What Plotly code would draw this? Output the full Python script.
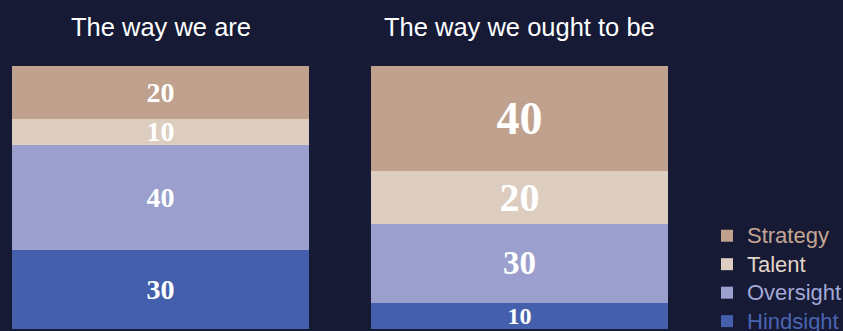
import plotly.graph_objects as go

columns = ["The way we are", "The way we ought to be"]
series = ["Hindsight", "Oversight", "Talent", "Strategy"]
hindsight = [30, 10]
oversight = [40, 30]
talent = [10, 20]
strategy = [20, 40]
values = {"Hindsight": hindsight, "Oversight": oversight, "Talent": talent, "Strategy": strategy}

bar_colors = {"Hindsight": "#4460ac", "Oversight": "#9a9fcd", "Talent": "#dccdc0", "Strategy": "#bfa18d"}
legend_colors = {"Hindsight": "#4a64b2", "Oversight": "#a2a8d8", "Talent": "#e2d5c8", "Strategy": "#c4a692"}
label_sizes = {"Hindsight": [28, 24], "Oversight": [28, 33], "Talent": [28, 40], "Strategy": [28, 46]}

BG = "#161a35"

fig = go.Figure()
for s in series:
    fig.add_trace(go.Bar(
        x=columns, y=values[s],
        name=f"<span style='color:{legend_colors[s]};font-size:22px'>{s}</span>",
        marker=dict(color=bar_colors[s], line=dict(width=0)),
        text=[str(v) for v in values[s]],
        textposition="inside", insidetextanchor="middle", textangle=0,
        constraintext="none",
        textfont=dict(family="Liberation Serif", size=label_sizes[s], color="#ffffff", weight="bold"),
        hoverinfo="skip",
    ))

for c in columns:
    fig.add_annotation(x=c, xref="x", y=1, yref="paper", yanchor="middle", yshift=38.7,
                       text=c, showarrow=False,
                       font=dict(family="Liberation Sans", size=25.5, color="#ffffff"))

W, H = 843, 331
ml, mr, mt, mb = 12, W - 668, 66, 1.5
ph = H - mt - mb
pw = W - ml - mr
bar_frac = 297 / 359

fig.update_layout(
    width=W, height=H,
    barmode="stack", bargap=1 - bar_frac,
    paper_bgcolor=BG, plot_bgcolor=BG,
    margin=dict(l=ml, r=mr, t=mt, b=mb, pad=0, autoexpand=False),
    xaxis=dict(range=[-bar_frac / 2, 1 + bar_frac / 2], showticklabels=False, showgrid=False,
               zeroline=False, showline=False, ticks=""),
    yaxis=dict(range=[0, 100], showticklabels=False, showgrid=False, zeroline=False,
               showline=False, ticks=""),
    legend=dict(x=(707 - ml) / pw, xanchor="left", y=(H - mb - 216.75) / ph, yanchor="top",
                traceorder="reversed", bgcolor="rgba(0,0,0,0)", borderwidth=0,
                font=dict(family="Liberation Sans", size=19.6, color="#ffffff")),
    showlegend=True,
)

fig.write_html("out.html")
